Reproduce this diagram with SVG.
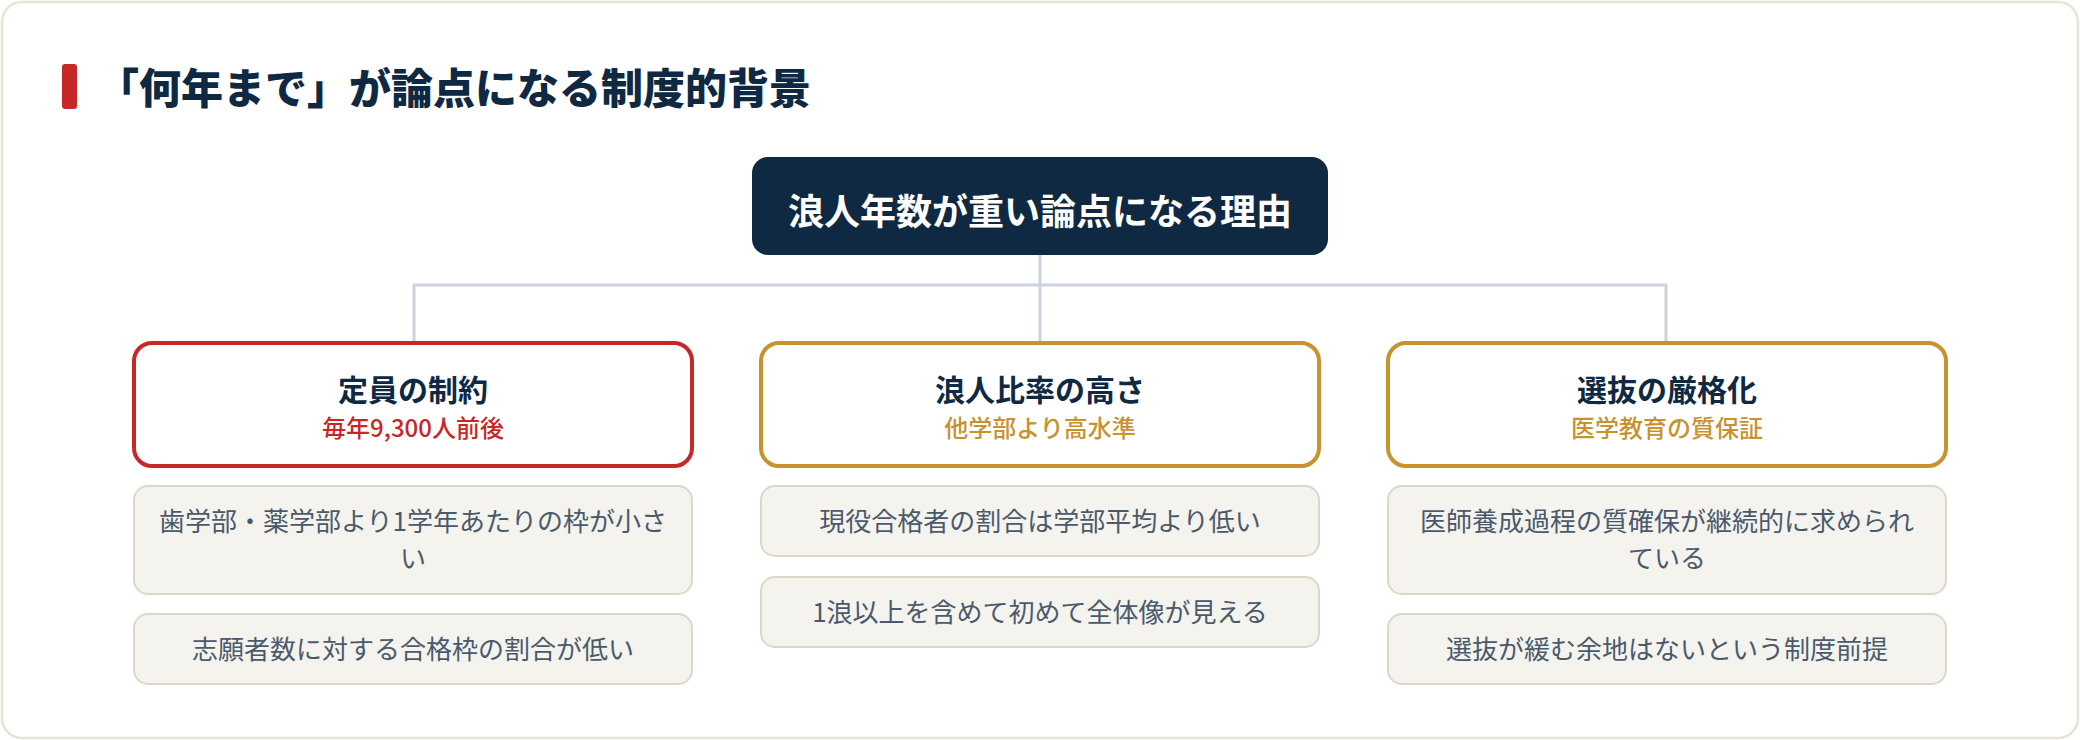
<svg xmlns="http://www.w3.org/2000/svg" width="2080" height="740" viewBox="0 0 2080 740">
  <style>
    text { font-family: "Noto Sans CJK JP", "Noto Sans", sans-serif; text-anchor: middle; }
    .frame { fill: #ffffff; stroke: #e6e3d8; stroke-width: 2.5; }
    .heading { font-size: 42px; font-weight: 900; fill: #0f2942; text-anchor: start; }
    .root-box { fill: #0f2942; }
    .root-text { font-size: 36px; font-weight: 700; fill: #ffffff; }
    .card { fill: #ffffff; stroke-width: 4; }
    .card-red { stroke: #c62828; }
    .card-gold { stroke: #c8922f; }
    .card-title { font-size: 30px; font-weight: 700; fill: #0f2942; }
    .sub-red { font-size: 24px; font-weight: 500; fill: #c62828; }
    .sub-gold { font-size: 24px; font-weight: 500; fill: #c8922f; }
    .detail { fill: #f5f3ee; stroke: #dcd7c6; stroke-width: 2; }
    .detail-text { font-size: 26px; fill: #4a5a6c; }
    .conn { fill: none; stroke: #cbd2dc; stroke-width: 3; }
  </style>

  <rect class="frame" x="2" y="2" width="2076" height="736" rx="20"/>

  <g id="heading">
    <rect x="62" y="64" width="15" height="45" rx="3" fill="#c62828"/>
    <text class="heading" x="97" y="104">「何年まで」が論点になる制度的背景</text>
  </g>

  <g id="connectors">
    <path class="conn" d="M1040 255 V285 M414 342 V285 H1666 V342 M1040 285 V342"/>
  </g>

  <g id="root">
    <rect class="root-box" x="752" y="157" width="576" height="98" rx="16"/>
    <text class="root-text" x="1040" y="225">浪人年数が重い論点になる理由</text>
  </g>

  <g id="card-capacity">
    <rect class="card card-red" x="134" y="343" width="558" height="123" rx="18"/>
    <text class="card-title" x="413" y="401">定員の制約</text>
    <text class="sub-red" x="413" y="437">毎年9,300人前後</text>
  </g>

  <g id="card-ronin">
    <rect class="card card-gold" x="761" y="343" width="558" height="123" rx="18"/>
    <text class="card-title" x="1040" y="401">浪人比率の高さ</text>
    <text class="sub-gold" x="1040" y="437">他学部より高水準</text>
  </g>

  <g id="card-selection">
    <rect class="card card-gold" x="1388" y="343" width="558" height="123" rx="18"/>
    <text class="card-title" x="1667" y="401">選抜の厳格化</text>
    <text class="sub-gold" x="1667" y="437">医学教育の質保証</text>
  </g>

  <g id="detail-capacity-1">
    <rect class="detail" x="134" y="486" width="558" height="108" rx="14"/>
    <text class="detail-text" x="413" y="531">歯学部・薬学部より1学年あたりの枠が小さ</text>
    <text class="detail-text" x="413" y="568">い</text>
  </g>
  <g id="detail-capacity-2">
    <rect class="detail" x="134" y="614" width="558" height="70" rx="14"/>
    <text class="detail-text" x="413" y="659">志願者数に対する合格枠の割合が低い</text>
  </g>

  <g id="detail-ronin-1">
    <rect class="detail" x="761" y="486" width="558" height="70" rx="14"/>
    <text class="detail-text" x="1040" y="531">現役合格者の割合は学部平均より低い</text>
  </g>
  <g id="detail-ronin-2">
    <rect class="detail" x="761" y="577" width="558" height="70" rx="14"/>
    <text class="detail-text" x="1040" y="622">1浪以上を含めて初めて全体像が見える</text>
  </g>

  <g id="detail-selection-1">
    <rect class="detail" x="1388" y="486" width="558" height="108" rx="14"/>
    <text class="detail-text" x="1667" y="531">医師養成過程の質確保が継続的に求められ</text>
    <text class="detail-text" x="1667" y="568">ている</text>
  </g>
  <g id="detail-selection-2">
    <rect class="detail" x="1388" y="614" width="558" height="70" rx="14"/>
    <text class="detail-text" x="1667" y="659">選抜が緩む余地はないという制度前提</text>
  </g>
</svg>
